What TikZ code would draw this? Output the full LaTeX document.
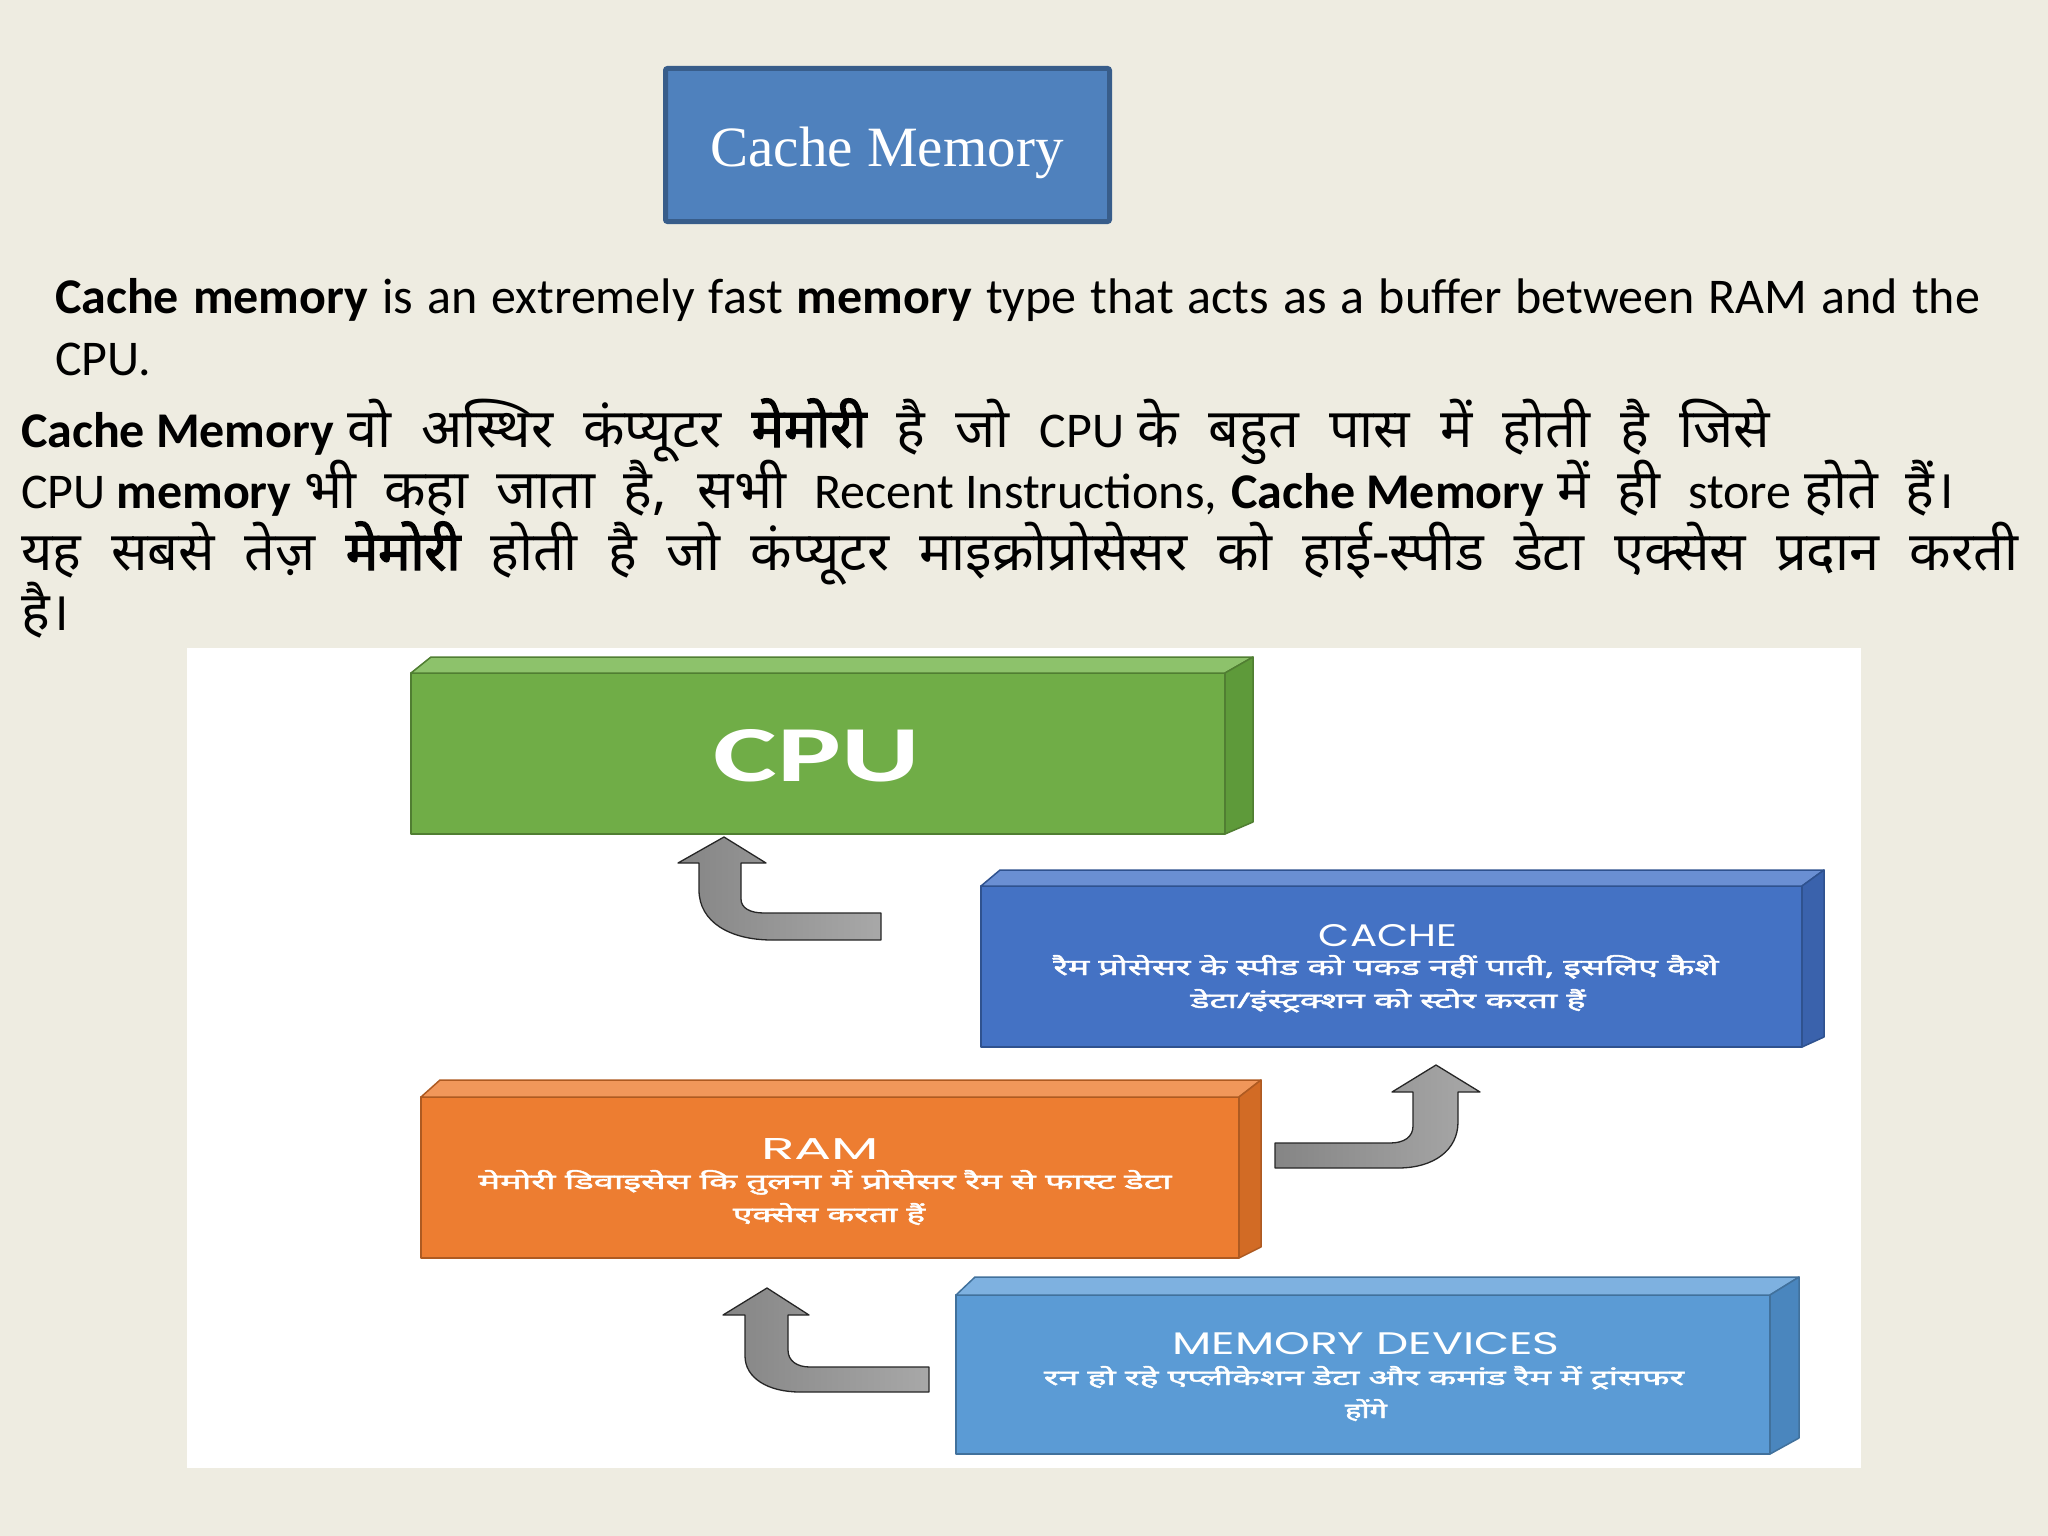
\documentclass[tikz,border=0pt]{standalone}
\usepackage{graphicx}
\usepackage{fontspec}
\setmainfont{Carlito}
\newfontfamily\hi[Script=Devanagari]{Noto Sans}
\newfontfamily\hib[Script=Devanagari,FakeBold=2.5]{Noto Sans}
\newfontfamily\hibx[Script=Devanagari,FakeBold=1.8]{Noto Sans}
\newfontfamily\serifT{Liberation Serif}
\newfontfamily\geo{Poppins}
\newcommand\myfs[1]{\fontsize{#1}{#1}\selectfont}
\newcommand\LA{\rmfamily\mdseries\fontsize{50}{55}\selectfont}
\newcommand\HI{\hi\mdseries\fontsize{54}{55}\selectfont}
\newcommand\HB{\hib\fontsize{54}{55}\selectfont}
\newcommand\gp{\hspace{13pt}}
\definecolor{bg}{HTML}{EEECE1}
\definecolor{titlefill}{HTML}{4F81BD}
\definecolor{titleline}{HTML}{385D8A}
\definecolor{cpuF}{HTML}{70AD47}
\definecolor{cpuT}{HTML}{8DC26B}
\definecolor{cpuR}{HTML}{5E9A3A}
\definecolor{cpuL}{HTML}{507E32}
\definecolor{cacheF}{HTML}{4472C4}
\definecolor{cacheT}{HTML}{6A8FD3}
\definecolor{cacheR}{HTML}{3A62AC}
\definecolor{cacheL}{HTML}{2F528F}
\definecolor{ramF}{HTML}{ED7D31}
\definecolor{ramT}{HTML}{F1975A}
\definecolor{ramR}{HTML}{D26B25}
\definecolor{ramL}{HTML}{AE5A21}
\definecolor{memF}{HTML}{5B9BD5}
\definecolor{memT}{HTML}{7EB1E0}
\definecolor{memR}{HTML}{4A86BE}
\definecolor{memL}{HTML}{41719C}
\definecolor{arrowA}{HTML}{858585}
\definecolor{arrowB}{HTML}{A8A8A8}
\begin{document}
\begin{tikzpicture}[x=1pt,y=-1pt,
  face/.style={line width=1.5pt, line join=round},
  front/.style={face, anchor=north west, inner sep=0pt, outer sep=0pt},
  txt/.style={inner sep=0pt, outer sep=0pt, anchor=base},
  wtxt/.style={txt, text=white},
  arrowshape/.style={draw=black!85, line width=1.3pt, left color=arrowA, right color=arrowB, line join=round}]
\useasboundingbox (0,0) rectangle (2048,1536);
\fill[bg] (0,0) rectangle (2048,1536);

% title
\node[draw=titleline, fill=titlefill, line width=5pt, rounded corners=2pt, minimum width=444pt, minimum height=153pt, inner sep=0pt] (title) at (887.5,145) {};
\node[wtxt] (titletxt) at (887,167) {\serifT\myfs{57}Cache Memory};

% English text
\node[txt, anchor=base west] (e1) at (55,313) {\makebox[1925pt][s]{\LA\bfseries Cache memory \mdseries is an extremely fast \bfseries memory \mdseries type that acts as a buffer between RAM and the}};
\node[txt, anchor=base west] (e2) at (55,375) {\LA CPU.};

% Hindi text
\node[txt, anchor=base west] (h1) at (21,447) {\makebox[1749pt][s]{\LA\bfseries Cache\hspace{11pt}Memory\gp\HI वो अस्थिर कंप्यूटर {\HB मेमोरी} है जो \LA CPU\gp\HI के बहुत पास में होती है जिसे}};
\node[txt, anchor=base west] (h2) at (21,508) {\makebox[1934pt][s]{\LA CPU\hspace{11pt}\bfseries memory\gp\HI भी कहा जाता है, सभी \LA Recent\hspace{11pt}Instructions,\hspace{14pt}\bfseries Cache\hspace{11pt}Memory\gp\HI में ही \LA store\gp\HI होते हैं।}};
\node[txt, anchor=base west] (h3) at (21,570) {\makebox[1997pt][s]{\HI यह सबसे तेज़ {\HB मेमोरी} होती है जो कंप्यूटर माइक्रोप्रोसेसर को हाई-स्पीड डेटा एक्सेस प्रदान करती}};
\node[txt, anchor=base west] (h4) at (21,630) {\HI है।};

% diagram panel
\node[fill=white, anchor=north west, inner sep=0pt, minimum width=1674pt, minimum height=820pt] (panel) at (187,648) {};

% CPU
\node[front, fill=cpuF, draw=cpuL, minimum width=814pt, minimum height=161pt] (cpu) at (411,673) {};
\filldraw[face, fill=cpuT, draw=cpuL] (cpu.north west) -- ++(20,-16) -- ++(822,0) -- (cpu.north east) -- cycle;
\filldraw[face, fill=cpuR, draw=cpuL] (cpu.north east) -- ++(28,-16) -- ++(0,165) -- (cpu.south east) -- cycle;
\node[wtxt] (cputxt) at (817,781) {\resizebox{206pt}{52pt}{\bfseries CPU}};

% CACHE
\node[front, fill=cacheF, draw=cacheL, minimum width=821pt, minimum height=161pt] (cache) at (981,886) {};
\filldraw[face, fill=cacheT, draw=cacheL] (cache.north west) -- ++(19,-16) -- ++(824,0) -- (cache.north east) -- cycle;
\filldraw[face, fill=cacheR, draw=cacheL] (cache.north east) -- ++(22,-16) -- ++(0,167) -- (cache.south east) -- cycle;
\node[wtxt] (cachet) at (1388,946) {\resizebox{138pt}{22pt}{\geo CACHE}};
\node[wtxt] (cache1) at (1386,975) {\resizebox{665pt}{20pt}{\hibx रैम प्रोसेसर के स्पीड को पकड नहीं पाती, इसलिए कैशे}};
\node[wtxt] (cache2) at (1388,1008) {\resizebox{395pt}{19pt}{\hibx डेटा/इंस्ट्रक्शन को स्टोर करता हैं}};

% RAM
\node[front, fill=ramF, draw=ramL, minimum width=818pt, minimum height=161pt] (ram) at (421,1097) {};
\filldraw[face, fill=ramT, draw=ramL] (ram.north west) -- ++(19,-17) -- ++(821,0) -- (ram.north east) -- cycle;
\filldraw[face, fill=ramR, draw=ramL] (ram.north east) -- ++(22,-17) -- ++(0,167) -- (ram.south east) -- cycle;
\node[wtxt] (ramt) at (820,1159) {\resizebox{118pt}{21pt}{\geo RAM}};
\node[wtxt] (ram1) at (825,1189) {\resizebox{693pt}{19pt}{\hibx मेमोरी डिवाइसेस कि तुलना में प्रोसेसर रैम से फास्ट डेटा}};
\node[wtxt] (ram2) at (829,1222) {\resizebox{192pt}{19pt}{\hibx एक्सेस करता हैं}};

% MEMORY DEVICES
\node[front, fill=memF, draw=memL, minimum width=814pt, minimum height=159pt] (mem) at (956,1295) {};
\filldraw[face, fill=memT, draw=memL] (mem.north west) -- ++(19,-18) -- ++(824,0) -- (mem.north east) -- cycle;
\filldraw[face, fill=memR, draw=memL] (mem.north east) -- ++(29,-18) -- ++(0,161) -- (mem.south east) -- cycle;
\node[wtxt] (memt) at (1366,1354) {\resizebox{387pt}{22pt}{\geo MEMORY DEVICES}};
\node[wtxt] (mem1) at (1364,1385) {\resizebox{640pt}{19pt}{\hibx रन हो रहे एप्लीकेशन डेटा और कमांड रैम में ट्रांसफर}};
\node[wtxt] (mem2) at (1366,1418) {\resizebox{42pt}{19pt}{\hibx होंगे}};

% bent block arrows
\path[arrowshape] (724,837) -- (766,863) -- (741,863) -- (741,899) .. controls (741,908) and (750,913) .. (764,913) -- (881,913) -- (881,940) -- (772,940) .. controls (730,940) and (699,922) .. (699,890) -- (699,863) -- (678,863) -- cycle;
\path[arrowshape] (1275,1143) -- (1390,1143) .. controls (1404,1143) and (1413,1137) .. (1413,1126) -- (1413,1092) -- (1392,1092) -- (1436,1065) -- (1480,1092) -- (1458,1092) -- (1458,1122) .. controls (1458,1150) and (1434,1168) .. (1398,1168) -- (1275,1168) -- cycle;
\path[arrowshape] (767,1288) -- (809,1315) -- (788,1315) -- (788,1350) .. controls (788,1361) and (797,1367) .. (810,1367) -- (929,1367) -- (929,1392) -- (800,1392) .. controls (768,1392) and (745,1378) .. (745,1356) -- (745,1315) -- (723,1315) -- cycle;
\end{tikzpicture}
\end{document}
